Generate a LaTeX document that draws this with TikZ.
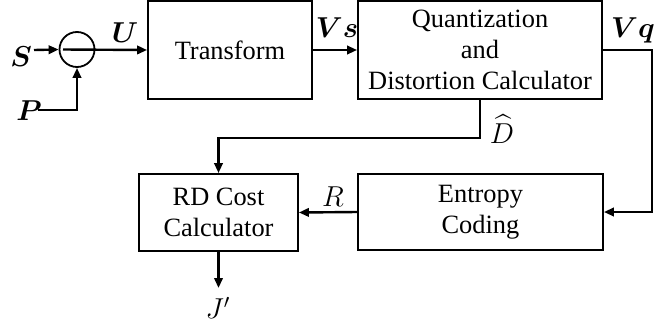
\documentclass[tikz,border=0pt]{standalone}
\usepackage{amsmath,bm}
\usepackage{fontspec}
\setmainfont{LiberationSerif}[Extension=.ttf,UprightFont=*-Regular,BoldFont=*-Bold,ItalicFont=*-Italic,BoldItalicFont=*-BoldItalic]
\usetikzlibrary{arrows.meta,calc}
\begin{document}
\begin{tikzpicture}[x=0.5pt,y=-0.5pt,
  font=\rmfamily\fontsize{13.2}{15.5}\selectfont,
  blk/.style={draw,line width=0.9pt,inner sep=0pt,align=center},
  conn/.style={line width=1.2pt,-{Triangle[length=5pt,width=4.2pt]}},
  lbl/.style={inner sep=0pt,font=\fontsize{14.5}{16}\selectfont}]
\useasboundingbox (0,0) rectangle (672,327);
% summing junction
\node[draw,circle,line width=0.9pt,minimum size=17.5pt,inner sep=0pt] (sum) at (77,49.5) {};
\node[lbl] (S) at (21,57) {$\bm{S}$};
\node[lbl] (P) at (29,111) {$\bm{P}$};
\coordinate (sin) at (34,50);
\coordinate (pin) at (38,110);
\coordinate (sumin) at (63,49.5);
% blocks
\node[blk,minimum width=82pt,minimum height=49pt] (T) at (230,50) {Transform};
\node[blk,minimum width=122pt,minimum height=49pt] (Q) at (480,50) {Quantization\\and\\Distortion Calculator};
\node[blk,minimum width=79.5pt,minimum height=38.5pt] (RD) at (218.5,212.5) {RD Cost\\Calculator};
\node[blk,minimum width=122.5pt,minimum height=38pt] (E) at (480.5,212) {Entropy\\Coding};
\coordinate (jout) at (218.5,288);
% labels
\node[lbl] (U) at (125,33) {$\bm{U}$};
\node[lbl] (Vs) at (337,28) {$\bm{Vs}$};
\node[lbl] (Vq) at (633,30) {$\bm{Vq}$};
\node[lbl] (Dh) at (502,129) {$\widehat{D}$};
\node[lbl] (R) at (333,197) {$R$};
\node[lbl] (J) at (218,308) {$J'$};
% connectors
\draw[conn] (sin) -- (sum.west);
\draw[conn] (pin) -| (sum.south);
\draw[conn] (sumin) -- (T.west);
\draw[conn] (T.east) -- (Q.west);
\draw[conn] (Q.east) -- ++(49,0) |- (E.east);
\draw[conn] (Q.south) -- ++(0,38) -| (RD.north);
\draw[conn] (E.west) -- (RD.east);
\draw[conn] (RD.south) -- (jout);
\end{tikzpicture}
\end{document}
